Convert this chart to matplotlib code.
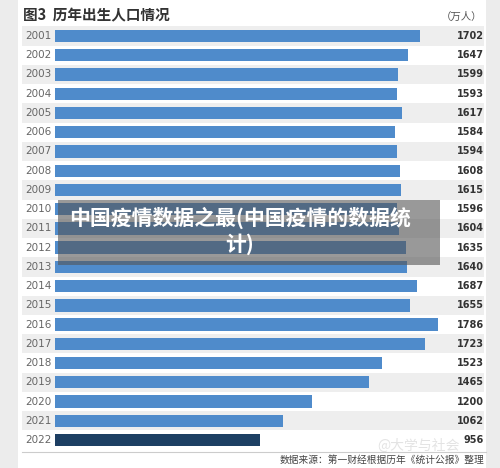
import matplotlib
matplotlib.use("Agg")
import matplotlib.pyplot as plt
from matplotlib.patches import Rectangle

plt.rcParams['font.family'] = ['Noto Sans CJK SC', 'DejaVu Sans']

years = [str(y) for y in range(2001, 2023)]
births = [1702, 1647, 1599, 1593, 1617, 1584, 1594, 1608, 1615, 1596, 1604,
          1635, 1640, 1687, 1655, 1786, 1723, 1523, 1465, 1200, 1062, 956]
title = "图3  历年出生人口情况"
unit = "（万人）"
source = "数据来源：第一财经根据历年《统计公报》整理"
overlay = "中国疫情数据之最(中国疫情的数据统\n计)"

W, H = 500, 468
fig = plt.figure(figsize=(W / 100, H / 100), dpi=100)
fig.patch.set_facecolor('#ececec')
fig.add_artist(Rectangle((18 / W, 0), (486 - 18) / W, 1, transform=fig.transFigure,
                         facecolor='white', edgecolor='none', zorder=0))

left_px, right_px = 22, 486
row0, step = 36.0, 19.24
n = len(years)
top_px = row0 - step / 2
bot_px = row0 + step * (n - 1) + step / 2
ax = fig.add_axes([left_px / W, 1 - bot_px / H, (right_px - left_px) / W, (bot_px - top_px) / H])
ax.set_facecolor('none')
px_per_unit = 0.2145
x0 = -(55 - left_px) / px_per_unit
x1 = (right_px - 55) / px_per_unit
ax.set_xlim(x0, x1)
ax.set_ylim(n - 0.5, -0.5)
for s in ax.spines.values():
    s.set_visible(False)
ax.set_xticks([])
ax.set_yticks([])

colors = ['#4f8bcb'] * (n - 1) + ['#1d3f63']
for i, (yr, v) in enumerate(zip(years, births)):
    if i % 2 == 0:
        ax.axhspan(i - 0.5, i + 0.5, xmin=0, xmax=(484 - left_px) / (right_px - left_px),
                   facecolor='#eeeeee', edgecolor='none', zorder=0)
    ax.text(x0 + 3 / px_per_unit, i, yr, ha='left', va='center', fontsize=7.5,
            color='#666666', family='DejaVu Sans', zorder=3)
    ax.text(0.995, i, str(v), transform=ax.get_yaxis_transform(), ha='right', va='center',
            fontsize=7, fontweight='bold', color='#333333', family='DejaVu Sans', zorder=3)
ax.barh(range(n), births, height=0.64, color=colors, zorder=2)

fig.add_artist(plt.Line2D([22 / W, 486 / W], [1 - 452 / H, 1 - 452 / H],
                          color='#cccccc', lw=0.8))

fig.text(23 / W, 1 - 15 / H, title, ha='left', va='center', fontsize=10.5,
         fontweight='bold', color='#333333')
fig.text(482 / W, 1 - 17 / H, unit, ha='right', va='center', fontsize=7.5, color='#555555')
fig.text(484 / W, 1 - 460 / H, source, ha='right', va='center', fontsize=7, color='#444444')
fig.text(460 / W, 1 - 446 / H, "@大学与社会", ha='right', va='center', fontsize=10,
         color='#dddddd', alpha=0.8)

# overlay
fig.add_artist(Rectangle((58 / W, 1 - 265 / H), (440 - 58) / W, 65 / H, transform=fig.transFigure,
                         facecolor='#555555', alpha=0.6, edgecolor='none', zorder=5))
fig.text(240 / W, 1 - 231 / H, overlay, ha='center', va='center', fontsize=15,
         fontweight='bold', color='white', linespacing=1.25, zorder=6)

fig.savefig('out.png', dpi=100)
